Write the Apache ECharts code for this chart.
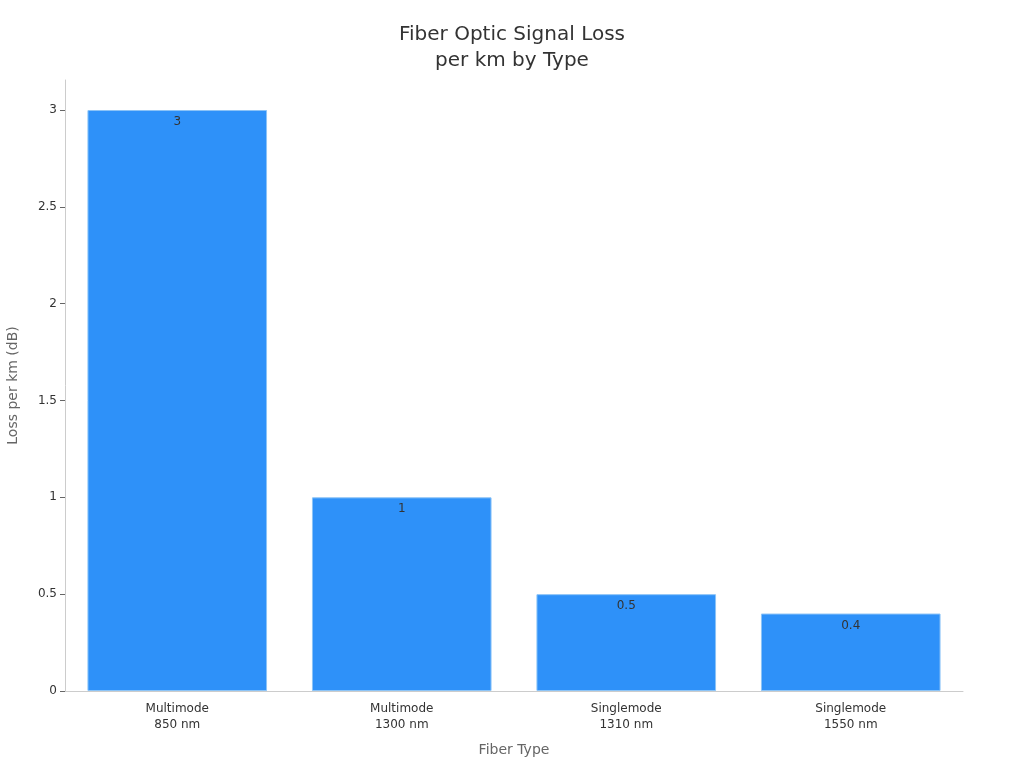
<!DOCTYPE html>
<html>
<head>
<meta charset="utf-8">
<script src="https://cdn.jsdelivr.net/npm/echarts@6/dist/echarts.min.js"></script>
<style>
  html, body { margin: 0; padding: 0; background: #fff; }
  #chart { width: 1024px; height: 768px; }
</style>
</head>
<body>
<div id="chart"></div>
<script>
const categories = ['Multimode\n850 nm', 'Multimode\n1300 nm', 'Singlemode\n1310 nm', 'Singlemode\n1550 nm'];
const lossValues = [3, 1, 0.5, 0.4];
const yTicks = [0, 0.5, 1, 1.5, 2, 2.5, 3];

const chart = echarts.init(document.getElementById('chart'));
const font = 'DejaVu Sans, sans-serif';

chart.setOption({
  animation: false,
  textStyle: { fontFamily: font },
  title: {
    text: 'Fiber Optic Signal Loss\nper km by Type',
    left: 'center',
    top: 17,
    textStyle: { fontFamily: font, fontSize: 20, fontWeight: 'normal', color: '#333', lineHeight: 26 },
  },
  grid: { left: 65, right: 61, top: 80, bottom: 77, containLabel: false, outerBoundsMode: 'none' },
  xAxis: {
    type: 'category',
    data: categories,
    name: 'Fiber Type',
    nameLocation: 'middle',
    nameGap: 52,
    nameTextStyle: { fontFamily: font, fontSize: 14, color: '#666' },
    axisLine: { lineStyle: { color: '#ccc' } },
    axisTick: { alignWithLabel: true, length: 5, lineStyle: { color: '#666' } },
    axisLabel: { fontFamily: font, fontSize: 12, color: '#333', lineHeight: 16, margin: 10 },
  },
  yAxis: {
    type: 'value',
    min: 0,
    max: 3.155,
    interval: 0.5,
    name: 'Loss per km (dB)',
    nameLocation: 'middle',
    nameGap: 45,
    nameTextStyle: { fontFamily: font, fontSize: 14, color: '#666' },
    splitLine: { show: false },
    axisLine: { show: true, lineStyle: { color: '#ccc' } },
    axisTick: { show: true, length: 5, lineStyle: { color: '#666' }, customValues: yTicks },
    axisLabel: { fontFamily: font, fontSize: 12, color: '#333', margin: 8, customValues: yTicks },
  },
  series: [{
    type: 'bar',
    data: lossValues,
    barWidth: '80%',
    itemStyle: { color: '#2E91F9', borderColor: '#8CC4F7', borderWidth: 1 },
    label: {
      show: true,
      position: 'insideTop',
      distance: 6,
      fontFamily: font,
      fontSize: 12,
      color: '#333',
    },
  }],
});
</script>
</body>
</html>
